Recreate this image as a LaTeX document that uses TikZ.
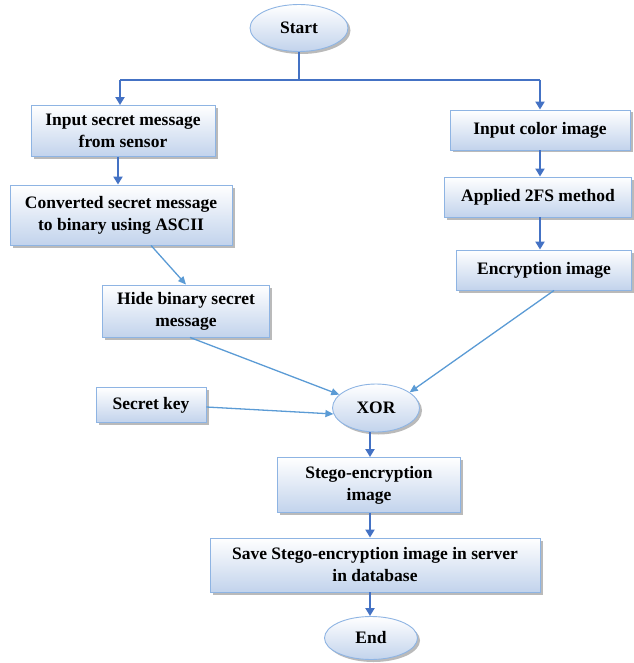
\documentclass[tikz,border=0pt]{standalone}
\usepackage{fontspec}
\setmainfont{Liberation Serif}
\usetikzlibrary{shadows,arrows.meta,shapes.geometric}
\definecolor{boxline}{HTML}{8EB4E3}
\definecolor{boxbot}{HTML}{C2D3EC}
\definecolor{arrdark}{HTML}{4472C4}
\definecolor{arrlight}{HTML}{5B9BD5}
\tikzset{
  base/.style={draw=boxline, line width=0.9pt, top color=white, bottom color=boxbot,
    drop shadow={shadow xshift=2.5pt, shadow yshift=-2.5pt, fill=black!45, opacity=0.6},
    font=\fontsize{17.5}{22}\selectfont\bfseries, align=center, inner sep=0pt},
  procbox/.style={base, rectangle},
  term/.style={base, ellipse},
  darr/.style={draw=arrdark, line width=2.2pt, -{Triangle[length=8pt,width=9pt]}},
  dline/.style={draw=arrdark, line width=2.2pt},
  larr/.style={draw=arrlight, line width=1.3pt, -{Triangle[length=8pt,width=7pt]}},
}
\begin{document}
\begin{tikzpicture}[x=1pt,y=-1pt]
\useasboundingbox (0,0) rectangle (633,663);
\node[term, minimum width=98pt, minimum height=47pt] (start) at (299,28) {Start};
\node[procbox, minimum width=184pt, minimum height=51pt] (in1) at (123,131) {Input secret message\\from sensor};
\node[procbox, minimum width=222pt, minimum height=60pt] (conv) at (121,215) {Converted secret message\\to binary using ASCII};
\node[procbox, minimum width=167pt, minimum height=52pt] (hide) at (186,311) {Hide binary secret\\message};
\node[procbox, minimum width=180pt, minimum height=40pt] (in2) at (540,130) {Input color image};
\node[procbox, minimum width=187pt, minimum height=40pt] (app) at (538,197) {Applied 2FS method};
\node[procbox, minimum width=175pt, minimum height=40pt] (enc) at (544,270) {Encryption image};
\node[procbox, minimum width=110pt, minimum height=35pt] (key) at (151,405) {Secret key};
\node[term, minimum width=87pt, minimum height=48pt] (xor) at (376,408) {XOR};
\node[procbox, minimum width=183pt, minimum height=55pt] (stego) at (369,485) {Stego-encryption\\image};
\node[procbox, minimum width=330pt, minimum height=54pt] (save) at (375,565) {Save Stego-encryption image in server\\in database};
\node[term, minimum width=93pt, minimum height=43pt] (end) at (371,638) {End};
\coordinate (split) at (299,80);
\coordinate (sl) at (120,80);
\coordinate (sr) at (540,80);
\draw[dline] (start.south) -- (split);
\draw[dline] (sl) -- (sr);
\draw[darr] (sl) -- (sl |- in1.north);
\draw[darr] (sr) -- (sr |- in2.north);
\draw[darr] (in1.south -| 118,0) -- (conv.north -| 118,0);
\draw[darr] (in2.south) -- (in2.south |- app.north);
\draw[darr] (app.south -| 540,0) -- (enc.north -| 540,0);
\draw[larr] ([xshift=30pt]conv.south) -- ([xshift=0pt]hide.north);
\draw[larr] ([xshift=4pt]hide.south) -- (xor.160);
\draw[larr] ([yshift=-2pt]key.east) -- (xor.188);
\draw[larr] ([xshift=10pt]enc.south) -- (xor.25);
\draw[darr] (xor.south -| 370,0) -- (stego.north -| 370,0);
\draw[darr] (stego.south -| 370,0) -- (save.north -| 370,0);
\draw[darr] (save.south -| 370,0) -- (end.north -| 370,0);
\end{tikzpicture}
\end{document}
